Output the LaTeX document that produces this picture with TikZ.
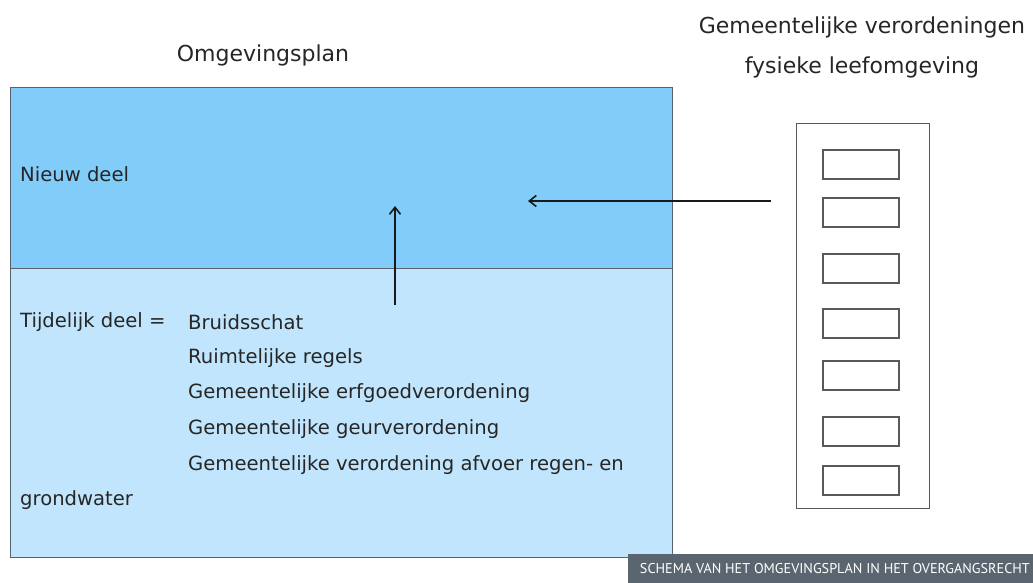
\documentclass[tikz,border=0pt]{standalone}
\usepackage{fontspec}
\setmainfont{DejaVu Sans}
\newfontfamily\capfont{PT Sans}
\usepackage{xcolor}
\usetikzlibrary{arrows.meta, positioning}
\definecolor{nieuwblue}{RGB}{130,204,250}
\definecolor{tijdblue}{RGB}{193,229,252}
\definecolor{rimgray}{RGB}{88,98,108}
\definecolor{capgray}{RGB}{90,101,112}
\tikzset{
  txt/.style={anchor=west, inner sep=0pt, font=\fontsize{19.6}{23}\selectfont, text=black!85},
  ttl/.style={inner sep=0pt, font=\fontsize{22}{26}\selectfont, text=black!85},
  slot/.style={draw=black!65, line width=1.1pt, minimum width=76pt, minimum height=29pt, inner sep=0pt},
  pijl/.style={-{Straight Barb[length=7pt, width=11pt, line width=1.6pt]}, line width=1.9pt, black!90}
}
\begin{document}
\begin{tikzpicture}[x=1pt, y=-1pt]
\useasboundingbox (0,0) rectangle (1033,583);
% Omgevingsplan
\node[ttl] (titel) at (263,55) {Omgevingsplan};
\fill[tijdblue] (10,268) rectangle (672,557);
\fill[nieuwblue] (10,88) rectangle (672,268);
\draw[rimgray, line width=1pt] (10,88) rectangle (672,557);
\draw[rimgray, line width=1pt] (10,268) -- (672,268);
\node[txt] (nieuw) at (20,174) {Nieuw deel};
\node[txt] (tijd) at (20,322) {Tijdelijk deel =};
\foreach \t [count=\i] in {Bruidsschat, Ruimtelijke regels, Gemeentelijke erfgoedverordening,
    Gemeentelijke geurverordening, Gemeentelijke verordening afvoer regen- en} {
  \node[txt] (item\i) at (188,{322+35.7*(\i-1)}) {\t};
}
\node[txt] (grond) at (20,500) {grondwater};

% Gemeentelijke verordeningen
\node[ttl] (vtitel1) at (862,27) {Gemeentelijke verordeningen};
\node[ttl] (vtitel2) at (862,67) {fysieke leefomgeving};
\node[draw=black!65, line width=1pt, minimum width=133pt, minimum height=384pt, inner sep=0pt] (kast) at (862.5,316) {};
\foreach \y [count=\i] in {150,198,254,309,361,417,466} {
  \node[slot] (vak\i) at (861,\y+14.5) {};
}

% Pijlen
\coordinate (hbegin) at (771,201);
\coordinate (heind) at (528,201);
\draw[pijl] (hbegin) -- (heind);
\coordinate (vbegin) at (395,305);
\coordinate (veind) at (395,206);
\draw[pijl] (vbegin) -- (veind);

% Onderschrift
\node[fill=capgray, minimum width=405pt, minimum height=29pt, inner sep=0pt, anchor=south east] (bijschrift) at (1033,583) {};
\node[anchor=east, inner sep=0pt, text=white, font=\capfont\fontsize{14.2}{16}\selectfont] (bijtekst) at (1030,569) {SCHEMA VAN HET OMGEVINGSPLAN IN HET OVERGANGSRECHT};
\end{tikzpicture}
\end{document}
